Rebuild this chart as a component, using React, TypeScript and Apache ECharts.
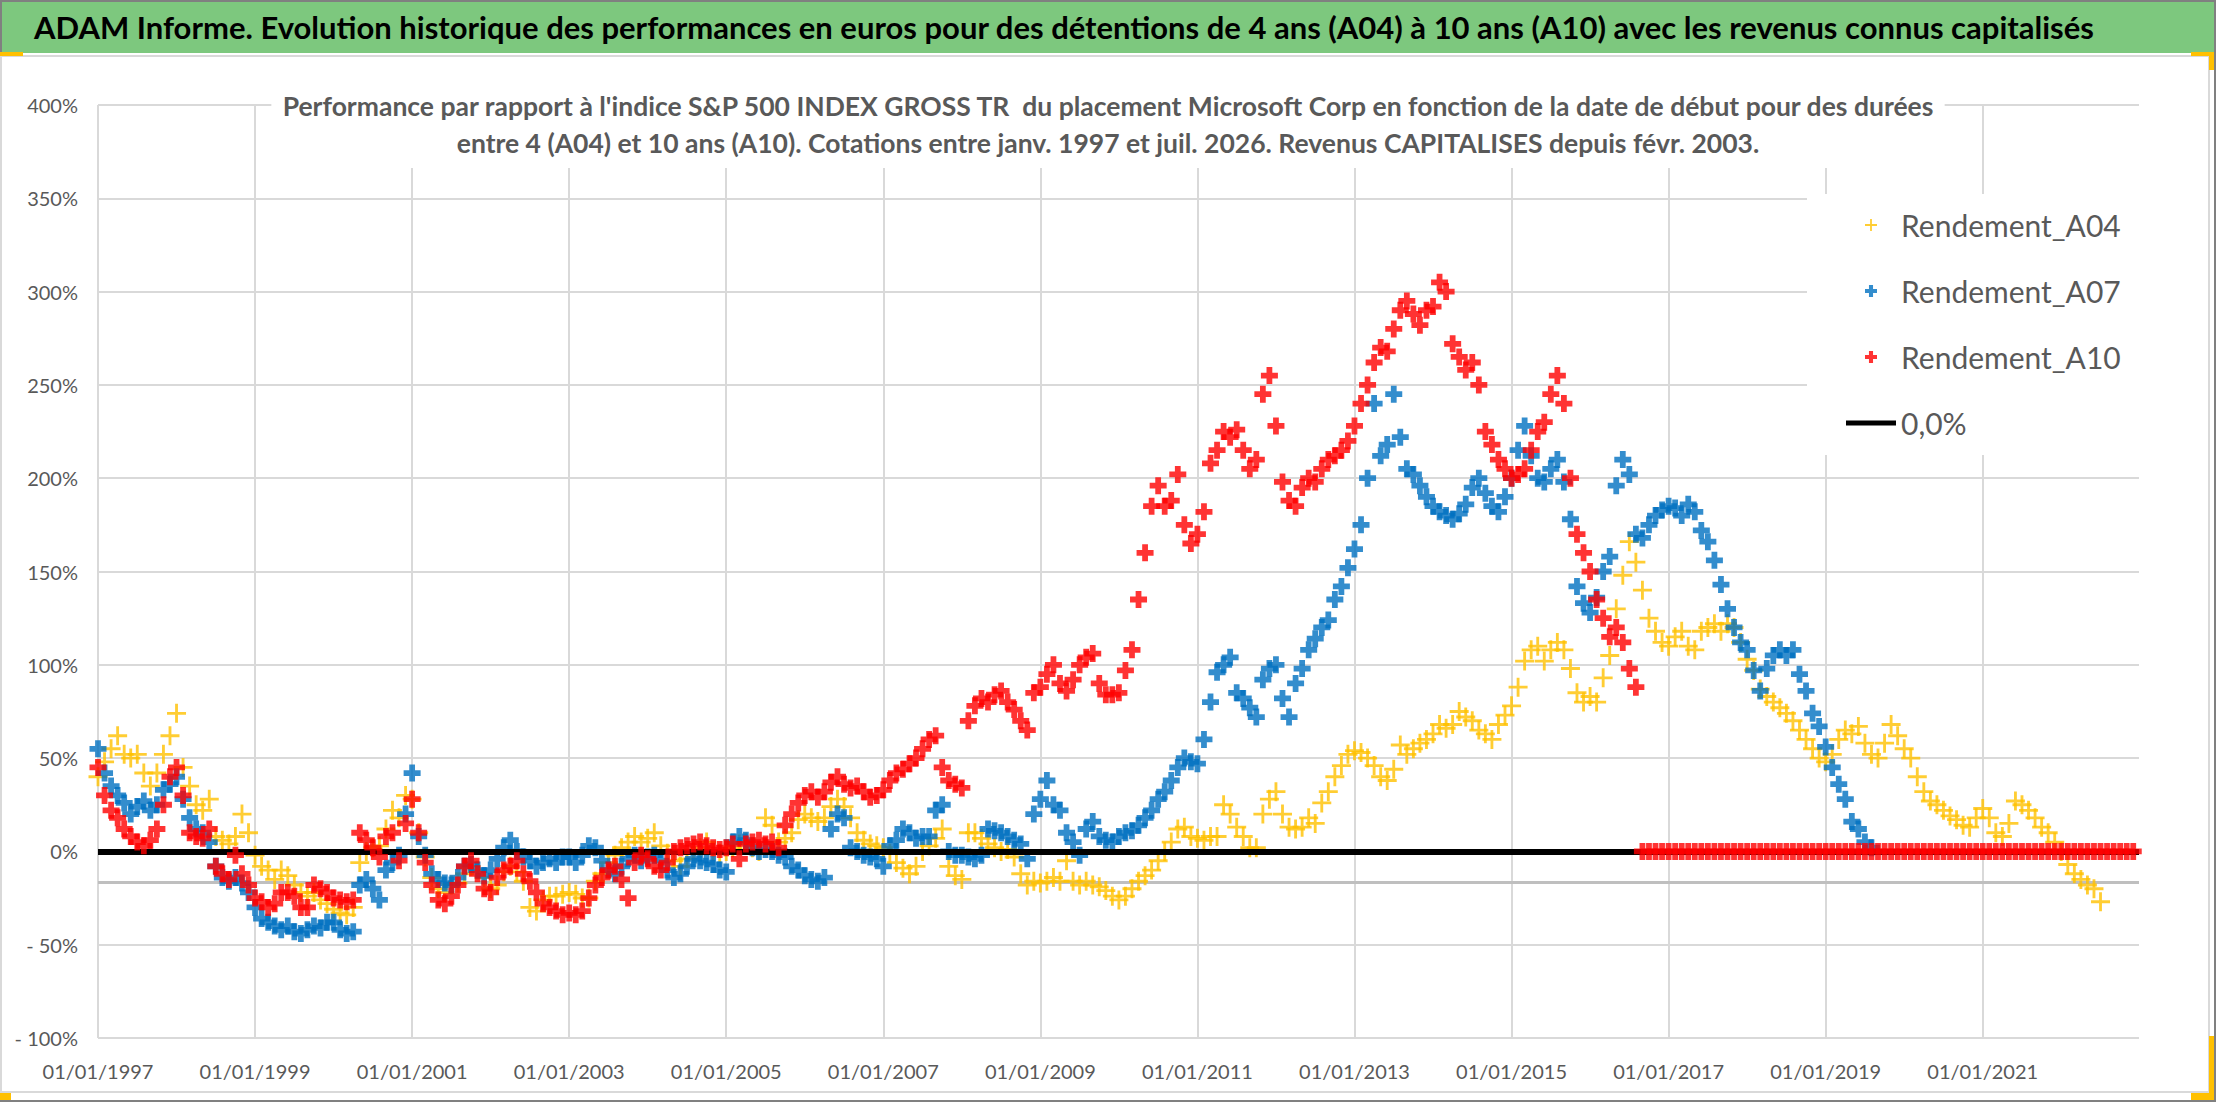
import { useEffect, useRef } from "react";
import * as echarts from "echarts";

// dates are monthly from 01/1997, x = years since 1997
const firstYear = 1997;
const axisCross = -16.5; // horizontal axis crosses here

const mainTitle =
    "ADAM Informe. Evolution historique des performances en euros pour des détentions de 4 ans (A04) à 10 ans (A10) avec les revenus connus capitalisés";
const subTitle = [
    "Performance par rapport à l'indice S&P 500 INDEX GROSS TR  du placement Microsoft Corp en fonction de la date de début pour des durées",
    "entre 4 (A04) et 10 ans (A10). Cotations entre janv. 1997 et juil. 2026. Revenus CAPITALISES depuis févr. 2003.",
];

const seriesNames = ["Rendement_A04", "Rendement_A07", "Rendement_A10", "0,0%"];

// Rendement_A04, %, one value per month from Jan 1997
const a04 = [
    40, 48, 55, 62, 52, 50, 52, 42, 35, 42, 52, 62,
    74, 45, 35, 25, 22, 28, 8, 6, 4, 8, 20, 10,
    -2, -8, -10, -15, -10, -13, -18, -22, -24, -22, -26, -28,
    -31, -33, -34, -30, -6, 0, 2, 3, 12, 22, 18, 30,
    28, 10, -3, -14, -20, -22, -18, -17, -12, -8, -10, -14,
    -20, -18, -11, -8, -11, -16, -30, -32, -26, -24, -24, -23,
    -22, -23, -25, -25, -16, -12, -6, -2, 2, 5, 8, 5,
    7, 10, 3, -1, -5, -8, -4, 0, 2, 5, 0, -1,
    0, 2, 4, 5, 2, 0, 18, 14, 5, 7, 10, 17,
    20, 18, 16, 18, 24, 28, 24, 18, 10, 6, 4, 3,
    2, -1, -6, -9, -12, -8, 0, 3, 7, 12, -8, -13,
    -15, 10, 10, 7, 4, 2, 0, 1, -3, -12, -18, -16,
    -17, -16, -14, -16, -5, -16, -18, -16, -18, -19, -21, -24,
    -26, -24, -20, -16, -13, -10, -5, 0, 5, 12, 13, 8,
    7, 6, 8, 8, 25, 20, 13, 8, 2, 2, 20, 28,
    32, 20, 13, 12, 13, 18, 15, 26, 32, 40, 46, 52,
    54, 53, 50, 46, 40, 38, 44, 57, 52, 55, 58, 60,
    63, 68, 66, 68, 75, 72, 70, 65, 63, 60, 68, 73,
    78, 88, 102, 108, 110, 102, 108, 112, 108, 98, 85, 80,
    83, 80, 93, 105, 130, 148, 166, 155, 140, 125, 118, 112,
    110, 115, 118, 110, 108, 118, 120, 122, 118, 122, 120, 112,
    103, 97, 87, 83, 80, 77, 74, 70, 65, 60, 55, 50,
    48, 52, 60, 65, 63, 67, 58, 52, 50, 58, 68, 62,
    55, 50, 40, 32, 27, 25, 22, 19, 17, 14, 13, 18,
    23, 18, 10, 8, 15, 27, 25, 22, 18, 13, 10, 5,
    0, -7, -12, -15, -18, -20, -27,
];

// Rendement_A07
const a07 = [
    55, 42, 35, 30, 26, 20, 24, 27, 22, 25, 33, 36,
    40, 28, 18, 12, 10, 5, -8, -14, -16, -14, -17, -22,
    -30, -36, -38, -40, -42, -40, -43, -44, -42, -40, -41, -38,
    -38, -42, -44, -43, -18, -15, -20, -26, -10, -6, -2, 20,
    42, 8, -2, -12, -15, -17, -18, -14, -8, -7, -10, -13,
    -10, -4, 2, 6, 0, -3, -5, -8, -6, -4, -6, -3,
    -3, -6, -2, 3, 2, -5, -10, -12, -8, -4, -2, -5,
    -3, -2, -5, -10, -14, -12, -8, -4, -5, -6, -7, -10,
    -11, 5, 8, 6, 2, 0, 1, 0, -2, -3, -8, -10,
    -13, -15, -16, -14, 12, 20, 18, 2, 0, -2, -3, -4,
    -8, 3, 6, 12, 10, 7, 8, 8, 22, 25, 0, -2,
    -2, -3, -4, -2, 12, 11, 10, 8, 6, 4, -4, 20,
    28, 38, 25, 22, 10, 5, -2, 12, 16, 8, 6, 5,
    8, 10, 11, 14, 18, 22, 28, 32, 38, 45, 50, 48,
    47, 60, 80, 96, 100, 104, 85, 82, 77, 72, 92, 98,
    100, 82, 72, 90, 98, 108, 114, 120, 124, 135, 142, 152,
    162, 175, 200, 240, 212, 218, 245, 222, 205, 202, 196, 190,
    185, 182, 180, 178, 181, 186, 195, 200, 192, 185, 182, 190,
    200, 215, 228, 212, 200, 198, 205, 210, 198, 178, 142, 133,
    128, 136, 150, 158, 196, 210, 202, 170, 168, 175, 180, 183,
    185, 184, 180, 186, 182, 172, 166, 156, 143, 130, 120, 112,
    108, 97, 86, 98, 105, 108, 105, 108, 95, 86, 74, 67,
    56, 45, 36, 28, 16, 12, 5, 2,
];

// Rendement_A10 (0 once the 10 year window runs past the last quote)
const a10 = [
    45, 30, 22, 18, 12, 8, 5, 3, 6, 12, 25, 40,
    45, 30, 10, 8, 7, 12, -8, -12, -15, -2, -12, -18,
    -25, -27, -30, -28, -22, -22, -24, -30, -30, -18, -20, -22,
    -25, -26, -27, -26, 10, 6, 2, -3, 8, 10, -5, 15,
    28, 10, -6, -18, -26, -28, -24, -18, -8, -5, -12, -20,
    -22, -14, -10, -8, -5, -12, -16, -22, -28, -30, -32, -34,
    -33, -34, -32, -25, -18, -14, -10, -8, -15, -25, -6, -2,
    -4, -8, -10, -6, 0, 2, 3, 4, 5, 3, 2, 1,
    2, 4, -4, 4, 5, 6, 4, 5, 2, 14, 20, 26,
    30, 32, 29, 32, 37, 40, 36, 34, 35, 32, 29, 30,
    33, 38, 42, 44, 47, 50, 55, 60, 62, 45, 38, 36,
    34, 70, 78, 82, 80, 84, 86, 80, 76, 70, 65, 85,
    88, 95, 100, 90, 86, 92, 100, 104, 106, 90, 84, 84,
    85, 97, 108, 135, 160, 185, 196, 185, 188, 202, 175, 165,
    170, 182, 208, 215, 225, 222, 226, 215, 205, 210, 245, 255,
    228, 198, 188, 185, 195, 200, 198, 205, 210, 212, 215, 220,
    228, 240, 250, 262, 270, 268, 280, 290, 295, 288, 282, 290,
    292, 305, 300, 272, 265, 258, 262, 250, 225, 218, 210, 205,
    200, 202, 205, 215, 225, 230, 245, 255, 240, 200, 170, 160,
    150, 135, 125, 115, 120, 112, 98, 88, 0, 0, 0, 0,
    0, 0, 0, 0, 0, 0, 0, 0, 0, 0, 0, 0,
    0, 0, 0, 0, 0, 0, 0, 0, 0, 0, 0, 0,
    0, 0, 0, 0, 0, 0, 0, 0, 0, 0, 0, 0,
    0, 0, 0, 0, 0, 0, 0, 0, 0, 0, 0, 0,
    0, 0, 0, 0, 0, 0, 0, 0, 0, 0, 0, 0,
    0, 0, 0, 0, 0, 0, 0, 0, 0, 0, 0, 0,
];

const FONT = 'Lato, "Liberation Sans", sans-serif';
const GREY_TEXT = "#595959";
const GRID_LINE = "#D9D9D9";

const plusThick = "path://M3.3,0H6.7V3.3H10V6.7H6.7V10H3.3V6.7H0V3.3H3.3Z";
const plusThin = "path://M4.25,0H5.75V4.25H10V5.75H5.75V10H4.25V5.75H0V4.25H4.25Z";
const barIcon = "path://M0,0H50V5H0Z";

const toPoints = (values: number[]) => values.map((v, i) => [i / 12, v]);

export default function App() {
    const chartRef = useRef<HTMLDivElement | null>(null);

    useEffect(() => {
        document.body.style.margin = "0";
        if (!chartRef.current) return;
        const chart = echarts.init(chartRef.current, null, { renderer: "svg" });

        const option: any = {
            animation: false,
            backgroundColor: "#fff",
            graphic: {
                elements: [
                    {
                        type: "rect",
                        shape: { x: 1, y: 1, width: 2214, height: 1100 },
                        style: { fill: "#fff", stroke: "#808080", lineWidth: 2 },
                        z: -10,
                    },
                    {
                        type: "rect",
                        shape: { x: 2, y: 2, width: 2212, height: 51 },
                        style: { fill: "#7DC87E" },
                        z: -9,
                    },
                    {
                        type: "rect",
                        shape: { x: 1, y: 56, width: 2208, height: 1036 },
                        style: { fill: "none", stroke: GRID_LINE, lineWidth: 2 },
                        z: -9,
                    },
                    // excel selection handles
                    { type: "rect", shape: { x: 0, y: 52, width: 23, height: 4 }, style: { fill: "#FFC000" }, z: -8 },
                    { type: "rect", shape: { x: 2191, y: 52, width: 23, height: 4 }, style: { fill: "#FFC000" }, z: -8 },
                    { type: "rect", shape: { x: 2209, y: 52, width: 5, height: 18 }, style: { fill: "#FFC000" }, z: -8 },
                    { type: "rect", shape: { x: 2209, y: 1036, width: 5, height: 64 }, style: { fill: "#FFC000" }, z: -8 },
                    { type: "rect", shape: { x: 2191, y: 1093, width: 23, height: 7 }, style: { fill: "#FFC000" }, z: -8 },
                    { type: "rect", shape: { x: 0, y: 1093, width: 11, height: 7 }, style: { fill: "#FFC000" }, z: -8 },
                ],
            },
            title: [
                {
                    text: mainTitle,
                    left: 34,
                    top: 7,
                    padding: 0,
                    textStyle: {
                        fontFamily: FONT,
                        fontWeight: "bold",
                        fontSize: 31,
                        lineHeight: 40,
                        color: "#000",
                    },
                },
                {
                    text: subTitle.join("\n"),
                    left: "center",
                    top: 79,
                    backgroundColor: "#fff",
                    padding: [8, 10, 7, 10],
                    textStyle: {
                        fontFamily: FONT,
                        fontWeight: "bold",
                        fontSize: 26.5,
                        lineHeight: 37,
                        color: GREY_TEXT,
                    },
                },
            ],
            legend: {
                data: [
                    { name: seriesNames[0] },
                    { name: seriesNames[1] },
                    { name: seriesNames[2] },
                    { name: seriesNames[3], icon: barIcon },
                ],
                orient: "vertical",
                left: 1807,
                top: 194,
                backgroundColor: "#fff",
                padding: [16, 40, 17, 39],
                itemGap: 36,
                itemWidth: 50,
                itemHeight: 12,
                textStyle: {
                    fontFamily: FONT,
                    fontSize: 30,
                    lineHeight: 28,
                    color: GREY_TEXT,
                },
                z: 10,
            },
            grid: {
                left: 98,
                top: 105,
                width: 2041,
                height: 933,
                outerBoundsMode: "none",
            },
            xAxis: {
                type: "value",
                min: 0,
                max: 25.99,
                interval: 2,
                axisLine: { show: false, onZero: false },
                axisTick: { show: false },
                axisLabel: {
                    margin: 23,
                    fontFamily: FONT,
                    fontSize: 20,
                    color: GREY_TEXT,
                    formatter: (v: number) => (v % 2 === 0 ? `01/01/${firstYear + v}` : ""),
                },
                splitLine: { show: true, showMaxLine: false, lineStyle: { color: GRID_LINE, width: 2 } },
            },
            yAxis: {
                type: "value",
                min: -100,
                max: 400,
                interval: 50,
                axisLine: { show: false },
                axisTick: { show: false },
                axisLabel: {
                    margin: 20,
                    fontFamily: FONT,
                    fontSize: 20,
                    color: GREY_TEXT,
                    formatter: (v: number) => (v < 0 ? `- ${-v}%` : `${v}%`),
                },
                splitLine: { show: true, lineStyle: { color: GRID_LINE, width: 2 } },
            },
            series: [
                {
                    name: "axe",
                    type: "line",
                    data: [],
                    silent: true,
                    markLine: {
                        z: 1,
                        symbol: "none",
                        silent: true,
                        label: { show: false },
                        lineStyle: { color: "#BFBFBF", width: 3, type: "solid" },
                        data: [{ yAxis: axisCross }],
                    },
                },
                {
                    name: "Rendement_A04",
                    type: "scatter",
                    z: 2,
                    symbol: plusThin,
                    symbolSize: 19,
                    itemStyle: { color: "#FFC000" },
                    data: toPoints(a04),
                },
                {
                    name: "Rendement_A07",
                    type: "scatter",
                    z: 3,
                    symbol: plusThick,
                    symbolSize: 17,
                    itemStyle: { color: "#0070C0" },
                    data: toPoints(a07),
                },
                {
                    name: "Rendement_A10",
                    type: "scatter",
                    z: 6,
                    symbol: plusThick,
                    symbolSize: 17,
                    itemStyle: { color: "#FF0000" },
                    data: toPoints(a10),
                },
                {
                    name: "0,0%",
                    type: "line",
                    data: [],
                    symbol: "none",
                    lineStyle: { color: "#000", width: 5 },
                    itemStyle: { color: "#000" },
                    markLine: {
                        z: 4,
                        symbol: "none",
                        silent: true,
                        label: { show: false },
                        lineStyle: { color: "#000", width: 6, type: "solid" },
                        data: [{ yAxis: 0 }],
                    },
                },
            ],
        };

        chart.setOption(option);

        return () => {
            chart.dispose();
        };
    }, []);

    return <div ref={chartRef} style={{ width: "2216px", height: "1102px" }} />;
}
